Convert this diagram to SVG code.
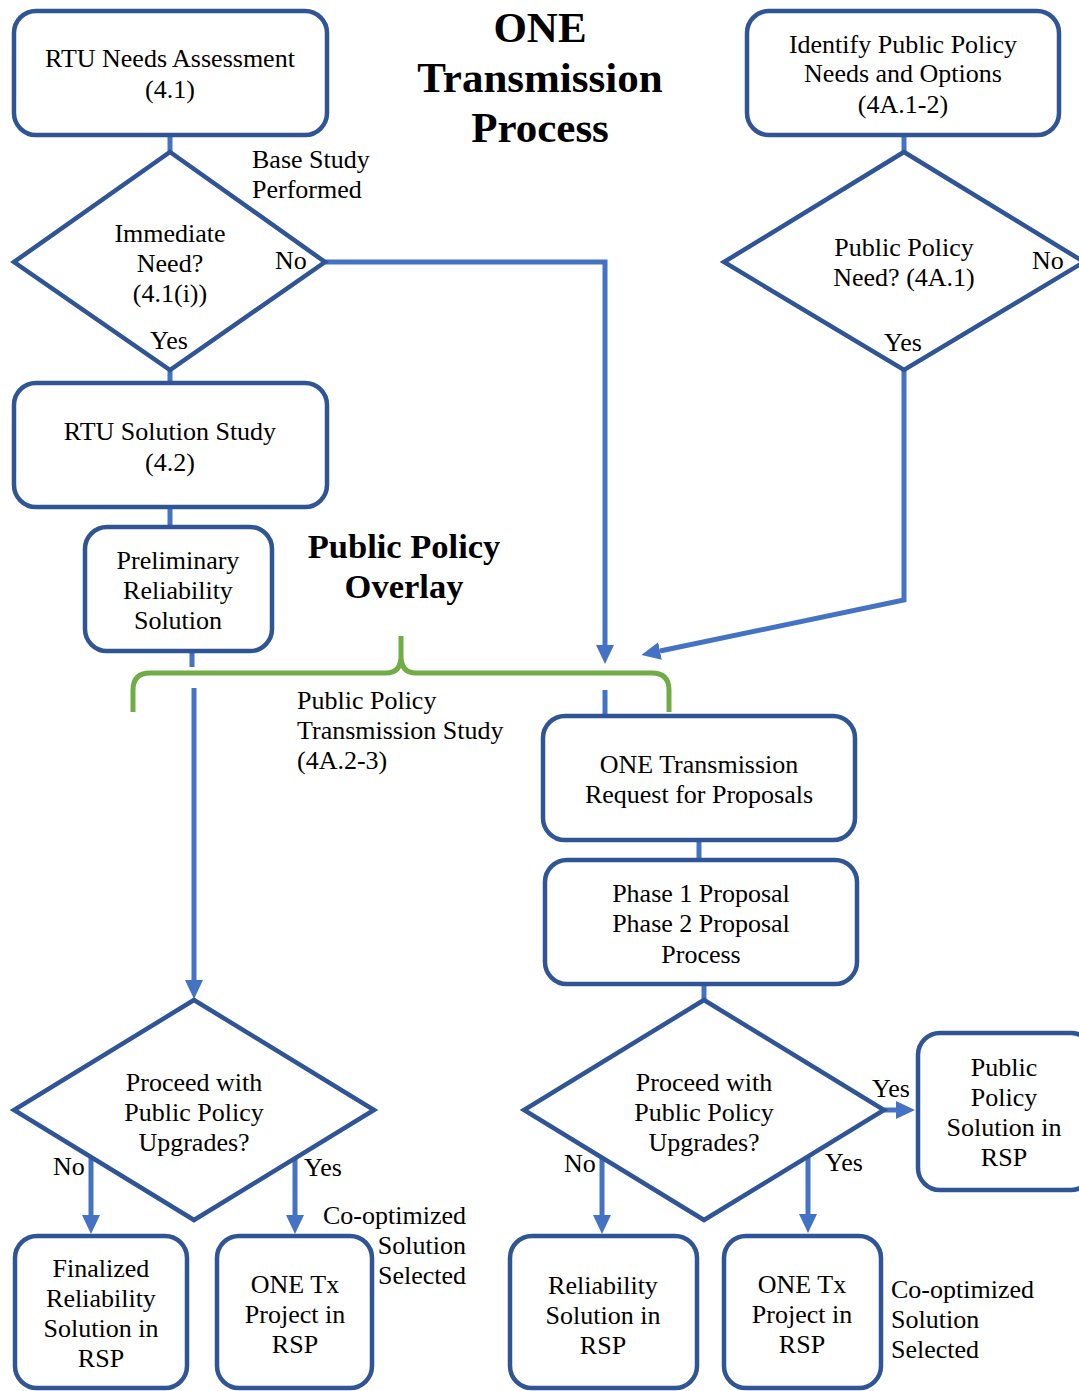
<svg xmlns="http://www.w3.org/2000/svg" width="1079" height="1391" viewBox="0 0 1079 1391">
<defs>
<style>
.node{fill:#fff;stroke:#2F5597;stroke-width:4.5}
.c{fill:none;stroke:#4472C4;stroke-width:5}
.br{fill:none;stroke:#70AD47;stroke-width:5}
text{font-family:"Liberation Serif","Times New Roman",serif;font-size:26px;fill:#000}
.m{text-anchor:middle}
.e{text-anchor:end}
.title{font-weight:bold;font-size:43px;text-anchor:middle}
.ov{font-weight:bold;font-size:34.5px;text-anchor:middle}
</style>
<marker id="ah" markerUnits="userSpaceOnUse" markerWidth="20" markerHeight="20" refX="0" refY="9" orient="auto" viewBox="0 0 20 18">
<path d="M0,0 L19,9 L0,18 z" fill="#4472C4"/>
</marker>
</defs>
<rect width="1079" height="1391" fill="#fff"/>

<g id="connectors">
<line class="c" x1="170" y1="135" x2="170" y2="152"/>
<line class="c" x1="170" y1="370" x2="170" y2="383"/>
<line class="c" x1="170" y1="507" x2="170" y2="527"/>
<line class="c" x1="192" y1="651" x2="192" y2="667"/>
<line class="c" x1="194" y1="688" x2="194" y2="980" marker-end="url(#ah)"/>
<path class="c" d="M325,262 H605 V645" marker-end="url(#ah)"/>
<line class="c" x1="904" y1="135" x2="904" y2="152"/>
<path class="c" d="M904,370 V600 L660,651" marker-end="url(#ah)"/>
<line class="c" x1="605" y1="690" x2="605" y2="716"/>
<line class="c" x1="699" y1="840" x2="699" y2="860"/>
<line class="c" x1="704" y1="984" x2="704" y2="1000"/>
<line class="c" x1="91" y1="1157" x2="91" y2="1215" marker-end="url(#ah)"/>
<line class="c" x1="295" y1="1158" x2="295" y2="1215" marker-end="url(#ah)"/>
<line class="c" x1="602" y1="1158" x2="602" y2="1215" marker-end="url(#ah)"/>
<line class="c" x1="808" y1="1156" x2="808" y2="1214" marker-end="url(#ah)"/>
<line class="c" x1="884" y1="1110" x2="896" y2="1110" marker-end="url(#ah)"/>
</g>

<g id="bracket">
<path class="br" d="M133,712 V690 Q133,673 150,673 H386 Q401,673 401,656 V636 V656 Q401,673 416,673 H652 Q669,673 669,690 V712"/>
</g>

<g id="title">
<text class="title" x="540" y="42">ONE</text>
<text class="title" x="540" y="92">Transmission</text>
<text class="title" x="540" y="142">Process</text>
</g>

<g id="n_rtu_needs">
<rect class="node" x="14" y="11" width="313" height="124" rx="22"/>
<text class="m" x="170" y="67">RTU Needs Assessment</text>
<text class="m" x="170" y="98">(4.1)</text>
</g>

<g id="n_immediate">
<polygon class="node" points="170,152 325,262 170,370 14,262"/>
<text class="m" x="170" y="242">Immediate</text>
<text class="m" x="170" y="272">Need?</text>
<text class="m" x="170" y="302">(4.1(i))</text>
<text x="275" y="269">No</text>
<text class="m" x="169" y="349">Yes</text>
<text x="252" y="168">Base Study</text>
<text x="252" y="198">Performed</text>
</g>

<g id="n_rtu_solution">
<rect class="node" x="14" y="383" width="313" height="124" rx="22"/>
<text class="m" x="170" y="440">RTU Solution Study</text>
<text class="m" x="170" y="471">(4.2)</text>
</g>

<g id="n_prelim">
<rect class="node" x="85" y="527" width="187" height="124" rx="22"/>
<text class="m" x="178" y="569">Preliminary</text>
<text class="m" x="178" y="599">Reliability</text>
<text class="m" x="178" y="629">Solution</text>
</g>

<g id="overlay_label">
<text class="ov" x="404" y="558">Public Policy</text>
<text class="ov" x="404" y="598">Overlay</text>
<text x="297" y="709">Public Policy</text>
<text x="297" y="739">Transmission Study</text>
<text x="297" y="769">(4A.2-3)</text>
</g>

<g id="n_identify">
<rect class="node" x="747" y="11" width="312" height="124" rx="22"/>
<text class="m" x="903" y="53">Identify Public Policy</text>
<text class="m" x="903" y="82">Needs and Options</text>
<text class="m" x="903" y="113">(4A.1-2)</text>
</g>

<g id="n_pp_need">
<polygon class="node" points="904,152 1084,262 904,370 724,262"/>
<text class="m" x="904" y="256">Public Policy</text>
<text class="m" x="904" y="286">Need? (4A.1)</text>
<text x="1032" y="269">No</text>
<text class="m" x="903" y="351">Yes</text>
</g>

<g id="n_rfp">
<rect class="node" x="543" y="716" width="312" height="124" rx="22"/>
<text class="m" x="699" y="773">ONE Transmission</text>
<text class="m" x="699" y="803">Request for Proposals</text>
</g>

<g id="n_phase">
<rect class="node" x="545" y="860" width="312" height="124" rx="22"/>
<text class="m" x="701" y="902">Phase 1 Proposal</text>
<text class="m" x="701" y="932">Phase 2 Proposal</text>
<text class="m" x="701" y="963">Process</text>
</g>

<g id="n_proceed_left">
<polygon class="node" points="194,1000 374,1110 194,1220 14,1110"/>
<text class="m" x="194" y="1091">Proceed with</text>
<text class="m" x="194" y="1121">Public Policy</text>
<text class="m" x="194" y="1151">Upgrades?</text>
<text x="53" y="1175">No</text>
<text x="304" y="1176">Yes</text>
</g>

<g id="n_final_rel">
<rect class="node" x="15" y="1236" width="172" height="152" rx="22"/>
<text class="m" x="101" y="1277">Finalized</text>
<text class="m" x="101" y="1307">Reliability</text>
<text class="m" x="101" y="1337">Solution in</text>
<text class="m" x="101" y="1367">RSP</text>
</g>

<g id="n_onetx_left">
<rect class="node" x="217" y="1236" width="155" height="152" rx="22"/>
<text class="m" x="295" y="1293">ONE Tx</text>
<text class="m" x="295" y="1323">Project in</text>
<text class="m" x="295" y="1353">RSP</text>
<text x="323" y="1224">Co-optimized</text>
<text class="e" x="466" y="1254">Solution</text>
<text class="e" x="466" y="1284">Selected</text>
</g>

<g id="n_proceed_right">
<polygon class="node" points="704,1000 884,1110 704,1220 524,1110"/>
<text class="m" x="704" y="1091">Proceed with</text>
<text class="m" x="704" y="1121">Public Policy</text>
<text class="m" x="704" y="1151">Upgrades?</text>
<text x="564" y="1172">No</text>
<text x="825" y="1171">Yes</text>
<text x="872" y="1097">Yes</text>
</g>

<g id="n_rel_rsp">
<rect class="node" x="510" y="1236" width="187" height="152" rx="22"/>
<text class="m" x="603" y="1294">Reliability</text>
<text class="m" x="603" y="1324">Solution in</text>
<text class="m" x="603" y="1354">RSP</text>
</g>

<g id="n_onetx_right">
<rect class="node" x="724" y="1236" width="157" height="152" rx="22"/>
<text class="m" x="802" y="1293">ONE Tx</text>
<text class="m" x="802" y="1323">Project in</text>
<text class="m" x="802" y="1353">RSP</text>
<text x="891" y="1298">Co-optimized</text>
<text x="891" y="1328">Solution</text>
<text x="891" y="1358">Selected</text>
</g>

<g id="n_pp_solution">
<rect class="node" x="918" y="1033" width="175" height="157" rx="22"/>
<text class="m" x="1004" y="1076">Public</text>
<text class="m" x="1004" y="1106">Policy</text>
<text class="m" x="1004" y="1136">Solution in</text>
<text class="m" x="1004" y="1166">RSP</text>
</g>
</svg>
